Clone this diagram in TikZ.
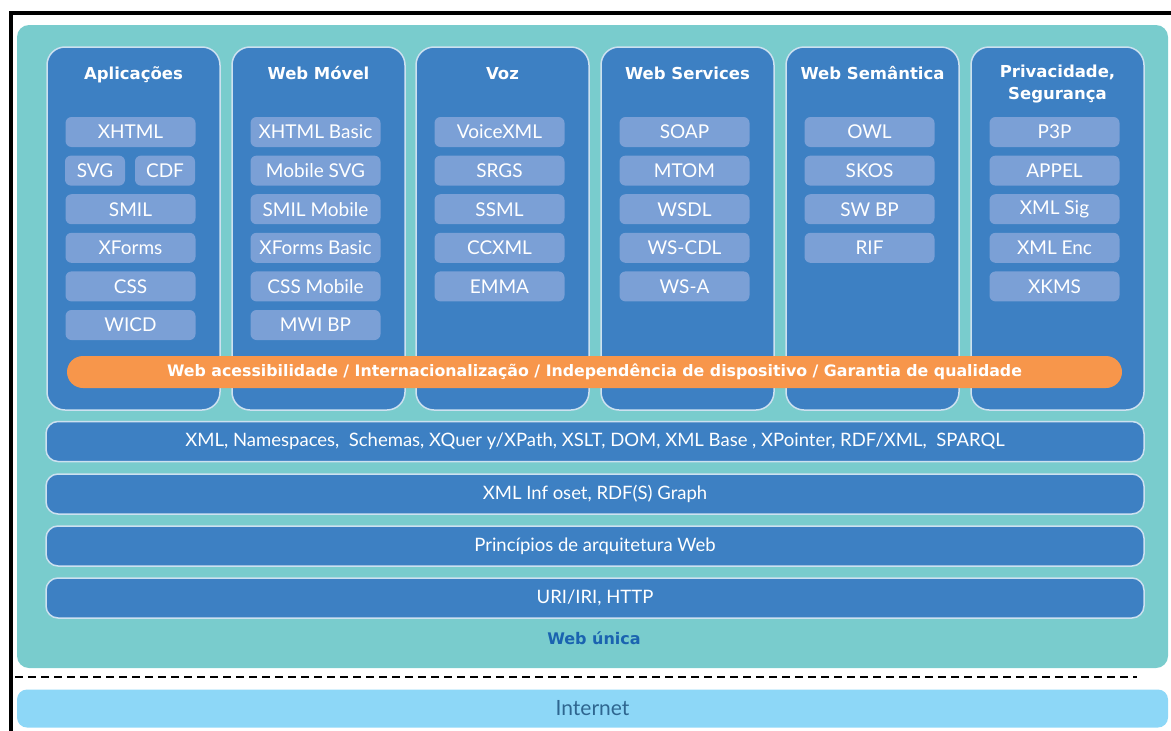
\documentclass[tikz,border=0pt]{standalone}
\usepackage{fontspec}
\setmainfont{Lato}
\newfontfamily\headfont{DejaVu Sans}
\usetikzlibrary{positioning}

\definecolor{webteal}{RGB}{121,204,205}
\definecolor{colblue}{RGB}{61,128,195}
\definecolor{edgeblue}{RGB}{205,225,240}
\definecolor{itemblue}{RGB}{123,160,214}
\definecolor{accorange}{RGB}{247,150,75}
\definecolor{netblue}{RGB}{141,215,247}
\definecolor{unicablue}{RGB}{26,99,176}
\definecolor{nettext}{RGB}{46,102,144}

\begin{document}
\begin{tikzpicture}[x=1pt,y=-1pt,
    column/.style={draw=edgeblue,line width=1.5pt,fill=colblue,rounded corners=18pt,
      minimum width=173pt,minimum height=363pt,inner sep=0pt},
    coltitle/.style={text=white,align=center,inner sep=0pt,
      font=\headfont\bfseries\fontsize{16.5}{22}\selectfont},
    item/.style={fill=itemblue,rounded corners=6pt,minimum width=130pt,minimum height=30pt,
      inner sep=0pt,text=white,font=\fontsize{19}{19}\selectfont},
    layer/.style={draw=edgeblue,line width=1.5pt,fill=colblue,rounded corners=12pt,
      minimum width=1098pt,minimum height=40pt,inner sep=0pt,text=white,
      font=\fontsize{18.5}{18.5}\selectfont}]
  \useasboundingbox (0,0) rectangle (1171,731);

  % single web background
  \node[fill=webteal,rounded corners=12pt,minimum width=1151pt,minimum height=643pt,
    inner sep=0pt] (web) at (592.5,346.5) {};

  % columns and their titles
  \foreach \name/\cx in {app/133.5,mob/318.5,voz/502.5,ws/687.5,sem/872.5,priv/1057.5}
    \node[column] (\name) at (\cx,228.5) {};
  \node[coltitle,anchor=base] (app-t) at (133.5,79) {Aplicações};
  \node[coltitle,anchor=base] (mob-t) at (318.5,79) {Web Móvel};
  \node[coltitle,anchor=base] (voz-t) at (502.5,79) {Voz};
  \node[coltitle,anchor=base] (ws-t) at (687.5,79) {Web Services};
  \node[coltitle,anchor=base] (sem-t) at (872.5,79) {Web Semântica};
  \node[coltitle] (priv-t) at (1057.5,84) {Privacidade,\\Segurança};

  % technologies
  \foreach \t/\r in {XHTML/0,SMIL/2,XForms/3,CSS/4,WICD/5}
    \node[item] (app-\r) at (130.5,{132+38.6*\r}) {\t};
  \node[item,minimum width=60pt] (app-svg) at (95,170.6) {SVG};
  \node[item,minimum width=60pt] (app-cdf) at (165,170.6) {CDF};
  \foreach \t [count=\r from 0] in {XHTML Basic,Mobile SVG,SMIL Mobile,XForms Basic,CSS Mobile,MWI BP}
    \node[item] (mob-\r) at (315.5,{132+38.6*\r}) {\t};
  \foreach \t [count=\r from 0] in {VoiceXML,SRGS,SSML,CCXML,EMMA}
    \node[item] (voz-\r) at (499.5,{132+38.6*\r}) {\t};
  \foreach \t [count=\r from 0] in {SOAP,MTOM,WSDL,WS-CDL,WS-A}
    \node[item] (ws-\r) at (684.5,{132+38.6*\r}) {\t};
  \foreach \t [count=\r from 0] in {OWL,SKOS,SW BP,RIF}
    \node[item] (sem-\r) at (869.5,{132+38.6*\r}) {\t};
  \foreach \t [count=\r from 0] in {P3P,APPEL,XML Sig,XML Enc,XKMS}
    \node[item] (priv-\r) at (1054.5,{132+38.6*\r}) {\t};

  % horizontal band across the columns
  \node[fill=accorange,rounded corners=16pt,minimum width=1055pt,minimum height=32pt,
    inner sep=0pt,text=white,font=\headfont\bfseries\fontsize{15.8}{15.8}\selectfont]
    (acc) at (594.5,372) {Web acessibilidade / Internacionalização / Independência de dispositivo / Garantia de qualidade};

  % layers
  \node[layer] (xml) at (595,441.5) {XML, Namespaces,\ \ Schemas, XQuer y/XPath, XSLT, DOM, XML Base , XPointer, RDF/XML,\ \ SPARQL};
  \node[layer] (infoset) at (595,494) {XML Inf oset, RDF(S) Graph};
  \node[layer] (arq) at (595,546) {Princípios de arquitetura Web};
  \node[layer] (uri) at (595,598) {URI/IRI, HTTP};
  \node[text=unicablue,font=\headfont\bfseries\fontsize{16}{16}\selectfont]
    (unica) at (594,638) {Web única};

  % internet below the dashed line
  \coordinate (dash-l) at (15,677);
  \coordinate (dash-r) at (1137,677);
  \draw[line width=1.6pt,dash pattern=on 8pt off 5pt] (dash-l) -- (dash-r);
  \node[fill=netblue,rounded corners=10pt,minimum width=1151pt,minimum height=38pt,
    inner sep=0pt,text=nettext,font=\fontsize{21}{21}\selectfont] (net) at (592.5,708.5) {Internet};

  % frame
  \draw[line width=4pt] (11,731) -- (11,13) -- (1171,13);
\end{tikzpicture}
\end{document}
